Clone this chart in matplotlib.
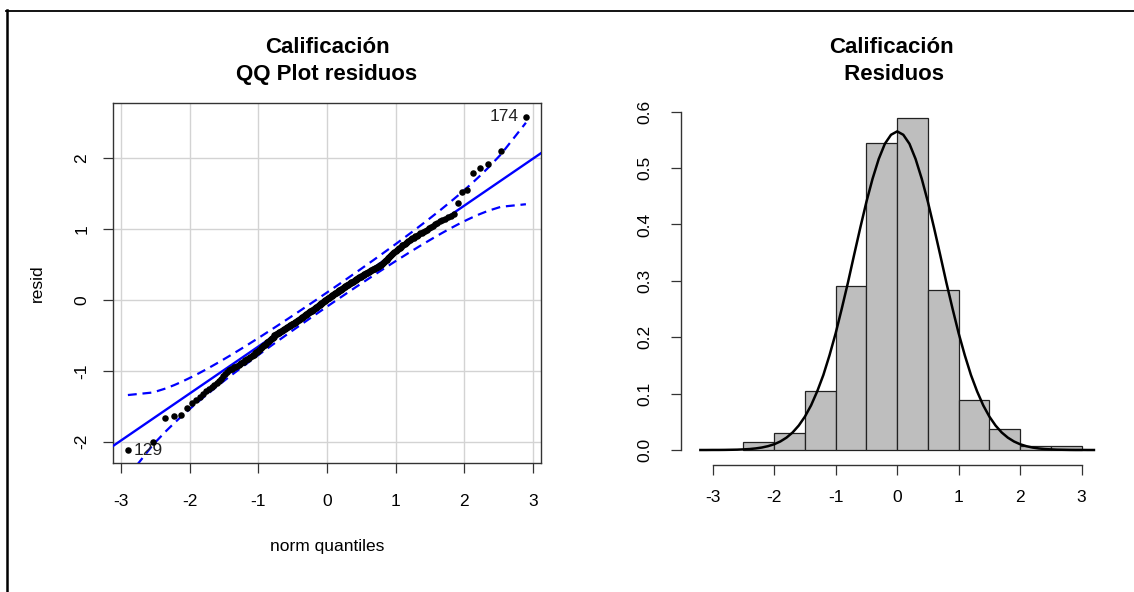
import matplotlib.pyplot as plt
import numpy as np
from matplotlib.lines import Line2D
from statistics import NormalDist

plt.rcParams['font.family'] = ['Liberation Sans', 'DejaVu Sans']
plt.rcParams['axes.unicode_minus'] = False

resid = [
    -2.12, -2.01,
    -1.67, -1.64, -1.62, -1.52,
    -1.46, -1.41, -1.37, -1.33, -1.29, -1.26, -1.23, -1.20, -1.17, -1.14,
    -1.11, -1.08, -1.05, -1.02,
    -0.99, -0.98, -0.97, -0.95, -0.94, -0.93, -0.92, -0.90, -0.89, -0.88,
    -0.87, -0.85, -0.84, -0.83, -0.82, -0.80, -0.79, -0.78, -0.77, -0.75,
    -0.74, -0.73, -0.72, -0.70, -0.69, -0.68, -0.67, -0.65, -0.64, -0.63,
    -0.62, -0.60, -0.59, -0.58, -0.57, -0.55, -0.54, -0.53, -0.52,
    -0.495, -0.488, -0.482, -0.475, -0.468, -0.461, -0.455, -0.448, -0.441, -0.434,
    -0.428, -0.421, -0.414, -0.407, -0.400, -0.394, -0.387, -0.380, -0.373, -0.366,
    -0.360, -0.353, -0.346, -0.339, -0.332, -0.326, -0.319, -0.312, -0.305, -0.298,
    -0.292, -0.285, -0.278, -0.271, -0.264, -0.258, -0.251, -0.244, -0.237, -0.230,
    -0.224, -0.217, -0.210, -0.203, -0.196, -0.190, -0.183, -0.176, -0.169, -0.162,
    -0.156, -0.149, -0.142, -0.135, -0.128, -0.122, -0.115, -0.108, -0.101, -0.094,
    -0.088, -0.081, -0.074, -0.067, -0.060, -0.054, -0.047, -0.040, -0.033, -0.026,
    -0.020, -0.013, -0.006,
    0.004, 0.010, 0.016, 0.023, 0.029, 0.035, 0.041, 0.048, 0.054, 0.060,
    0.067, 0.073, 0.079, 0.085, 0.092, 0.098, 0.104, 0.111, 0.117, 0.123,
    0.129, 0.136, 0.142, 0.148, 0.155, 0.161, 0.167, 0.173, 0.180, 0.186,
    0.192, 0.199, 0.205, 0.211, 0.217, 0.224, 0.230, 0.236, 0.243, 0.249,
    0.255, 0.261, 0.268, 0.274, 0.280, 0.287, 0.293, 0.299, 0.305, 0.312,
    0.318, 0.324, 0.331, 0.337, 0.343, 0.349, 0.356, 0.362, 0.368, 0.375,
    0.381, 0.387, 0.393, 0.400, 0.406, 0.412, 0.419, 0.425, 0.431, 0.437,
    0.444, 0.450, 0.456, 0.463, 0.469, 0.475, 0.481, 0.488, 0.494,
    0.51, 0.52, 0.53, 0.55, 0.56, 0.57, 0.59, 0.60, 0.61, 0.62,
    0.64, 0.65, 0.66, 0.68, 0.69, 0.70, 0.72, 0.73, 0.74, 0.75,
    0.77, 0.78, 0.79, 0.81, 0.82, 0.83, 0.85, 0.86, 0.87, 0.88,
    0.90, 0.91, 0.92, 0.94, 0.95, 0.96, 0.98, 0.99,
    1.01, 1.03, 1.05, 1.07, 1.09, 1.11, 1.13, 1.15, 1.17, 1.19, 1.22, 1.37,
    1.52, 1.56, 1.80, 1.87, 1.92,
    2.10,
    2.59,
]
point_labels = ["129", "174"]  # lowest and highest residual

# robust line
line_intercept = 0.005
line_slope = 0.663

hist_breaks = [-2.5, -2.0, -1.5, -1.0, -0.5, 0.0, 0.5, 1.0, 1.5, 2.0, 2.5, 3.0]

# density curve
density_x = np.round(np.arange(-3.2, 3.21, 0.1), 1)
density_y = [
    0.0000, 0.0000, 0.0001, 0.0001, 0.0002, 0.0004, 0.0006, 0.0011, 0.0017, 0.0028,
    0.0044, 0.0068, 0.0102, 0.0151, 0.0219, 0.0311, 0.0434, 0.0592, 0.0791, 0.104,
    0.133, 0.168, 0.207, 0.251, 0.297, 0.346, 0.394, 0.440, 0.481, 0.516,
    0.543, 0.559, 0.565, 0.559, 0.543, 0.516, 0.481, 0.440, 0.394, 0.346,
    0.297, 0.251, 0.207, 0.168, 0.133, 0.104, 0.0791, 0.0592, 0.0434, 0.0311,
    0.0219, 0.0151, 0.0102, 0.0068, 0.0044, 0.0028, 0.0017, 0.0011, 0.0006, 0.0004,
    0.0002, 0.0001, 0.0001, 0.0000, 0.0000,
]

W, H = 1134, 592
fig = plt.figure(figsize=(W / 100, H / 100), dpi=100)

def box(l, t, r, b):
    return [l / W, 1 - b / H, (r - l) / W, (b - t) / H]

tick_fs = 12.5
title_fs = 16

# ---------------- QQ plot ----------------
ax1 = fig.add_axes(box(113, 103, 541, 463))
y = np.sort(np.array(resid))
n = len(y)
nd = NormalDist()
P = (np.arange(1, n + 1) - 0.5) / n
z = np.array([nd.inv_cdf(p) for p in P])
dz = np.array([nd.pdf(v) for v in z])
fit = line_intercept + line_slope * z
se = line_slope / dz * np.sqrt(P * (1 - P) / n)
zz = nd.inv_cdf(0.975)

ax1.set_xlim(-3.117, 3.12)
ax1.set_ylim(-2.302, 2.782)
ax1.set_xticks([-3, -2, -1, 0, 1, 2, 3])
ax1.set_yticks([-2, -1, 0, 1, 2])
ax1.grid(True, color='#d3d3d3', lw=1)
ax1.set_axisbelow(True)

xl = np.array(ax1.get_xlim())
ax1.plot(xl, line_intercept + line_slope * xl, color='blue', lw=1.7, zorder=3)
ax1.plot(z, fit + zz * se, color='blue', lw=1.6, dashes=(4, 2.6), zorder=3)
ax1.plot(z, fit - zz * se, color='blue', lw=1.6, dashes=(4, 2.6), zorder=3)
ax1.scatter(z, y, s=22, color='black', zorder=4, linewidths=0)

ax1.text(z[0] + 0.08, y[0], point_labels[0], ha='left', va='center', fontsize=tick_fs, color='#222222')
ax1.text(z[-1] - 0.1, y[-1], point_labels[1], ha='right', va='center', fontsize=tick_fs, color='#222222')

for s in ax1.spines.values():
    s.set_color('#333333')
    s.set_linewidth(1.0)
ax1.tick_params(axis='both', length=7, width=0.9, color='#333333', labelsize=tick_fs)
ax1.tick_params(axis='x', pad=15)
ax1.tick_params(axis='y', pad=10)
for lab in ax1.get_yticklabels():
    lab.set_rotation(90)
    lab.set_va('center')
ax1.set_xlabel('norm quantiles', fontsize=tick_fs, labelpad=22)
ax1.set_ylabel('resid', fontsize=tick_fs, labelpad=21)
fig.text(327 / W, 1 - 61 / H, 'Calificación\nQQ Plot residuos', ha='center', va='center',
         fontsize=title_fs, fontweight='bold', linespacing=1.42)

# ---------------- histogram ----------------
ax2 = fig.add_axes(box(681, 97, 1113, 465))
ax2.hist(y, bins=hist_breaks, density=True, color='#bebebe', edgecolor='#222222', linewidth=0.9)
ax2.plot(density_x, density_y, color='black', lw=1.8)
ax2.set_xlim(-3.515, 3.51)
ax2.set_ylim(-0.0266, 0.626)
ax2.set_xticks([-3, -2, -1, 0, 1, 2, 3])
ax2.set_yticks([0.0, 0.1, 0.2, 0.3, 0.4, 0.5, 0.6])
ax2.set_yticklabels(['0.0', '0.1', '0.2', '0.3', '0.4', '0.5', '0.6'])
for side in ['top', 'right']:
    ax2.spines[side].set_visible(False)
ax2.spines['bottom'].set_bounds(-3, 3)
ax2.spines['left'].set_bounds(0, 0.6)
for side in ['bottom', 'left']:
    ax2.spines[side].set_color('#333333')
    ax2.spines[side].set_linewidth(1.0)
ax2.tick_params(axis='both', length=7, width=0.9, color='#333333', labelsize=tick_fs)
ax2.tick_params(axis='x', pad=11)
ax2.tick_params(axis='y', pad=13.5)
for lab in ax2.get_yticklabels():
    lab.set_rotation(90)
    lab.set_va('center')
fig.text(891 / W, 1 - 61 / H, 'Calificación\n Residuos', ha='center', va='center',
         fontsize=title_fs, fontweight='bold', linespacing=1.42)

# outer frame lines (top and left)
fig.add_artist(Line2D([6 / W, 1], [1 - 10.5 / H, 1 - 10.5 / H], transform=fig.transFigure, color='black', lw=1.3))
fig.add_artist(Line2D([6.5 / W, 6.5 / W], [1 - 10 / H, 0], transform=fig.transFigure, color='black', lw=1.8))

fig.savefig('out.png', dpi=100)
